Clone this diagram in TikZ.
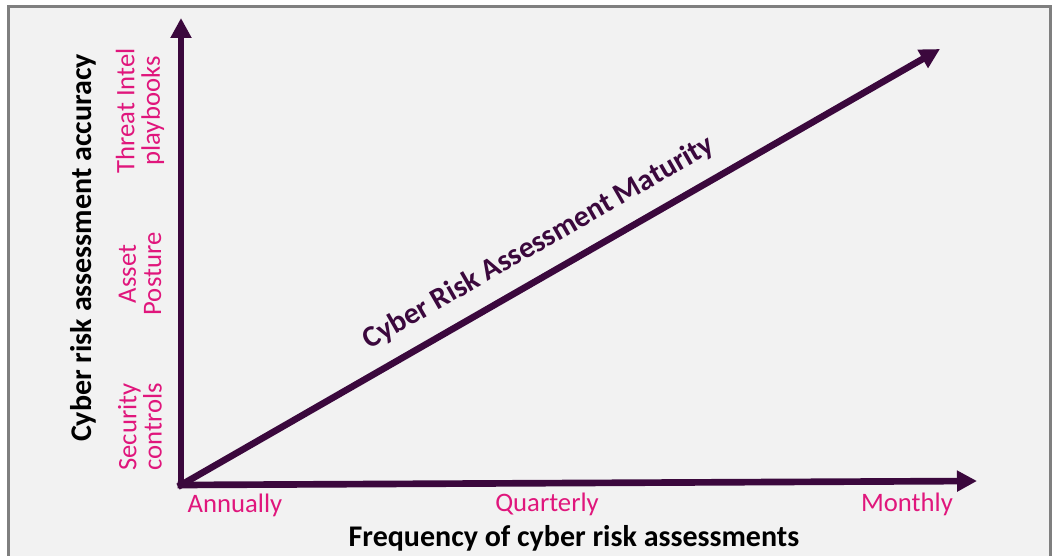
\documentclass[tikz,border=0pt]{standalone}
\usepackage{fontspec}
\setmainfont{Carlito}
\usetikzlibrary{arrows.meta}

\definecolor{plum}{RGB}{59,8,61}
\definecolor{rose}{RGB}{224,22,124}
\definecolor{boxgray}{RGB}{127,127,127}
\definecolor{panel}{RGB}{242,242,242}

\begin{document}
\begin{tikzpicture}[x=0.75pt,y=0.75pt,
        axis/.style={line width=5pt,color=plum,line cap=rect,
            -{Triangle[length=15pt,width=15pt]}},
        lvl/.style={text=rose,font=\fontsize{20}{19}\selectfont,align=center},
        ttl/.style={font=\fontsize{22.5}{24}\selectfont\bfseries}]
    \useasboundingbox[fill=white] (-181,-71) rectangle (871,485);
    \draw[boxgray,line width=2.25pt,fill=panel] (-172,478) rectangle (869,-95);

	% axes and the maturity line
	\coordinate (o) at (0,0);
	\coordinate (xend) at (796,4);
	\coordinate (yend) at (0,467);
	\coordinate (diag) at (759,436);
	\draw[axis] (o) -- (xend);
	\draw[axis] (o) -- (yend);
	\draw[axis] (o) -- (diag);
	\node[ttl,text=plum,rotate=29.9,anchor=base] (mat) at (362,235)
	    {Cyber Risk Assessment Maturity};

	% frequency ticks
	\node[lvl,anchor=base] (ann) at (54,-28) {Annually};
	\node[lvl,anchor=base] (qtr) at (366,-27) {Quarterly};
	\node[lvl,anchor=base] (mon) at (726,-27) {Monthly};
	\node[ttl,anchor=base] (xlab) at (393,-61) {Frequency of cyber risk assessments};

	% accuracy levels
	\node[lvl,rotate=90] (sec) at (-41,58) {Security\\controls};
	\node[lvl,rotate=90] (ast) at (-41,211) {Asset\\Posture};
	\node[lvl,rotate=90] (thr) at (-41,374) {Threat Intel\\playbooks};
	\node[ttl,rotate=90] (ylab) at (-98,237) {Cyber risk assessment accuracy};
\end{tikzpicture}
\end{document}
